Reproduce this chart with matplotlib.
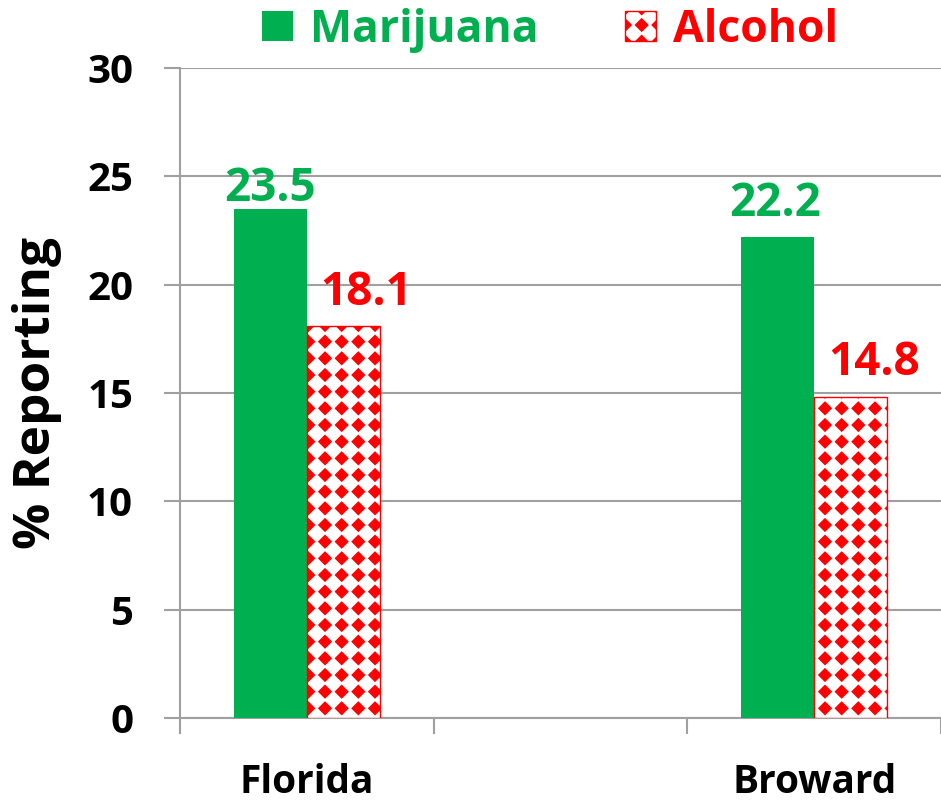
import matplotlib
matplotlib.use('Agg')
import matplotlib.pyplot as plt
import matplotlib.hatch as mhatch
from matplotlib.path import Path
import numpy as np

categories = ['Florida', '', 'Broward']
marijuana = [23.5, np.nan, 22.2]
alcohol = [18.1, np.nan, 14.8]
yticks = [0, 5, 10, 15, 20, 25, 30]

# label nudges in pixels (dx, dy above bar top)
mar_off = [(0, 8), None, (-3, 21)]
alc_off = [(23, 21), None, (24, 22)]

GREEN = '#00B050'
RED = '#FF0000'
GRAY = '#A0A0A0'
PX = 72.0 / 100.0  # points per pixel


class DiamondGrid(mhatch.HatchPatternBase):
    # filled diamonds on a square grid, drawn for the '*' hatch character
    def __init__(self, hatch, density):
        self.n = hatch.count('*') * density
        self.num_vertices = self.n * self.n * 5

    def set_vertices_and_codes(self, vertices, codes):
        n = self.n
        h = 0.37 / n
        shape = np.array([[0, h], [h, 0], [0, -h], [-h, 0], [0, h]])
        k = 0
        for i in range(n):
            for j in range(n):
                c = np.array([(i + 0.5) / n, (j + 0.5) / n])
                vertices[k:k + 5] = shape + c
                codes[k:k + 5] = [Path.MOVETO, Path.LINETO, Path.LINETO,
                                  Path.LINETO, Path.CLOSEPOLY]
                k += 5


mhatch._hatch_types = [t for t in mhatch._hatch_types if t is not mhatch.Stars]
mhatch._hatch_types.append(DiamondGrid)

plt.rcParams['font.family'] = ['Open Sans', 'DejaVu Sans']
plt.rcParams['font.weight'] = 'bold'
plt.rcParams['hatch.color'] = RED
plt.rcParams['hatch.linewidth'] = 1.0

fig = plt.figure(figsize=(9.41, 8.01), dpi=100)
ax = fig.add_axes([0.1913, 0.1036, 0.8087, 0.8114])

x = np.arange(len(categories))
w = 0.287
b1 = ax.bar(x - w / 2, marijuana, w, color=GREEN, label='Marijuana', zorder=3)
b2 = ax.bar(x + w / 2, alcohol, w, facecolor='white', edgecolor=RED, hatch='*',
            linewidth=1.0, label='Alcohol', zorder=3)

for xi, v, off in zip(x, marijuana, mar_off):
    if off is not None:
        ax.annotate('%.1f' % v, (xi - w / 2, v), xytext=(off[0] * PX, off[1] * PX),
                    textcoords='offset points', ha='center', va='baseline',
                    color=GREEN, fontsize=33, fontweight='bold', zorder=4)
for xi, v, off in zip(x, alcohol, alc_off):
    if off is not None:
        ax.annotate('%.1f' % v, (xi + w / 2, v), xytext=(off[0] * PX, off[1] * PX),
                    textcoords='offset points', ha='center', va='baseline',
                    color=RED, fontsize=33, fontweight='bold', zorder=4)

ax.set_xlim(-0.5, 2.5)
ax.set_ylim(0, 30)
ax.set_yticks(yticks)
ax.set_yticklabels([str(t) for t in yticks], fontsize=29, fontweight='bold')
ax.set_xticks([-0.5, 0.5, 1.5, 2.5])
ax.set_xticklabels([])
ax.tick_params(axis='x', length=16 * PX, width=1.5, color=GRAY, direction='out')
ax.tick_params(axis='y', length=16 * PX, width=1.5, color=GRAY, direction='out',
               pad=31 * PX)
for xi, c in zip(x, categories):
    ax.annotate(c, (xi, 0), xytext=(0, -75 * PX), textcoords='offset points',
                ha='center', va='baseline', fontsize=28, fontweight='bold',
                annotation_clip=False)

ax.yaxis.grid(True, color=GRAY, linewidth=1.5, zorder=0)
ax.set_axisbelow(True)
for s in ['top', 'right']:
    ax.spines[s].set_visible(False)
ax.spines['left'].set_color(GRAY)
ax.spines['left'].set_linewidth(1.5)
ax.spines['bottom'].set_color(GRAY)
ax.spines['bottom'].set_linewidth(1.5)

ax.set_ylabel('% Reporting', fontsize=37, fontweight='bold', labelpad=18)

leg = fig.legend(handles=[b1, b2], loc='center', bbox_to_anchor=(0.5845, 0.9625),
                 ncol=2, frameon=False, handlelength=0.69, handleheight=0.67,
                 columnspacing=1.96, handletextpad=0.38, borderpad=0.1,
                 prop={'weight': 'bold', 'size': 32})
for t, c in zip(leg.get_texts(), [GREEN, RED]):
    t.set_color(c)

fig.savefig('out.png', dpi=100)
